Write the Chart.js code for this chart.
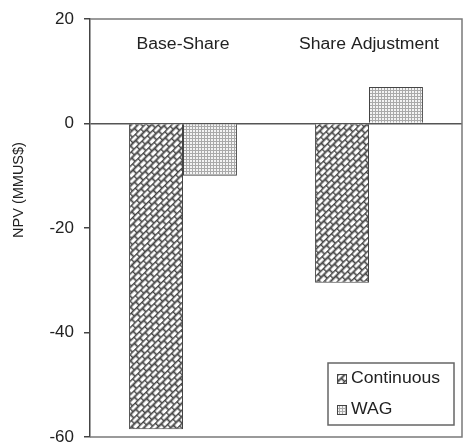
<!DOCTYPE html>
<html>
<head>
<meta charset="utf-8">
<script src="https://cdn.jsdelivr.net/npm/chart.js@4.4.1/dist/chart.umd.min.js"></script>
<style>
  html,body{margin:0;padding:0;background:#fff;}
  #wrap{width:463px;height:443px;}
</style>
</head>
<body>
<div id="wrap"><canvas id="c" width="463" height="443"></canvas></div>
<script>
const categories = ['Base-Share', 'Share Adjustment'];
const seriesNames = ['Continuous', 'WAG'];
const continuousValues = [-58.5, -30.5];
const wagValues = [-10, 7];
const yMin = -60, yMax = 20, yStep = 20;
const yTitle = 'NPV (MMUS$)';

const FONT = '"Liberation Sans", Arial, sans-serif';
const SX = 1.1; // horizontal stretch of the reference text

function brickPattern() {
  const t = document.createElement('canvas');
  t.width = 8; t.height = 10;
  const g = t.getContext('2d');
  g.fillStyle = '#fff'; g.fillRect(0, 0, 8, 10);
  g.strokeStyle = '#444'; g.lineWidth = 1.8;
  g.beginPath();
  g.moveTo(0, 0.5); g.lineTo(8, 0.5);
  g.moveTo(0, 5.5); g.lineTo(8, 5.5);
  g.moveTo(0.5, 0); g.lineTo(0.5, 5.5);
  g.moveTo(4.5, 5.5); g.lineTo(4.5, 10);
  g.stroke();
  const ctx = document.createElement('canvas').getContext('2d');
  const p = ctx.createPattern(t, 'repeat');
  p.setTransform(new DOMMatrix().rotateSelf(-45).scaleSelf(0.95, 0.95));
  return p;
}
function dotPattern() {
  const t = document.createElement('canvas');
  t.width = 3; t.height = 3;
  const g = t.getContext('2d');
  g.fillStyle = '#f4f4f4'; g.fillRect(0, 0, 3, 3);
  g.fillStyle = '#aaa';
  g.fillRect(0, 0, 3, 1);
  g.fillRect(0, 0, 1, 3);
  const ctx = document.createElement('canvas').getContext('2d');
  return ctx.createPattern(t, 'repeat');
}

function stretchText(ctx, text, x, y, align) {
  ctx.save();
  ctx.translate(x, y);
  ctx.scale(SX, 1);
  ctx.textAlign = align;
  ctx.fillText(text, 0, 0);
  ctx.restore();
}

const decor = {
  id: 'decor',
  afterDatasetsDraw(chart) {
    const { ctx, chartArea: a, scales } = chart;
    // frame (top, right, bottom)
    ctx.save();
    ctx.strokeStyle = '#7a7a7a';
    ctx.lineWidth = 1.5;
    ctx.beginPath();
    ctx.moveTo(a.left, a.top); ctx.lineTo(a.right, a.top); ctx.lineTo(a.right, a.bottom); ctx.lineTo(a.left, a.bottom);
    ctx.stroke();
    ctx.restore();

    // category labels inside the plot
    ctx.save();
    ctx.fillStyle = '#222';
    ctx.font = '16px ' + FONT;
    ctx.textBaseline = 'middle';
    categories.forEach((c, i) => {
      stretchText(ctx, c, scales.x.getPixelForValue(i), 45, 'center');
    });
    ctx.restore();

    // y title
    ctx.save();
    ctx.fillStyle = '#222';
    ctx.font = '14.5px ' + FONT;
    ctx.translate(19, 190);
    ctx.rotate(-Math.PI / 2);
    ctx.scale(1.0, 1);
    ctx.textAlign = 'center';
    ctx.textBaseline = 'middle';
    ctx.fillText(yTitle, 0, 0);
    ctx.restore();

    // legend
    const lx = 328, ly = 363, lw = 126, lh = 62;
    ctx.save();
    ctx.fillStyle = '#fff';
    ctx.fillRect(lx, ly, lw, lh);
    ctx.strokeStyle = '#666';
    ctx.lineWidth = 1.5;
    ctx.strokeRect(lx, ly, lw, lh);
    ctx.font = '16px ' + FONT;
    ctx.textBaseline = 'middle';
    chart.data.datasets.forEach((ds, i) => {
      const cy = ly + 16 + i * 31;
      ctx.fillStyle = ds.backgroundColor;
      ctx.fillRect(337, cy - 4.5, 9, 9);
      ctx.strokeStyle = '#444';
      ctx.lineWidth = 1;
      ctx.strokeRect(337.5, cy - 4.5, 9, 9);
      ctx.fillStyle = '#222';
      stretchText(ctx, ds.label, 351, cy, 'left');
    });
    ctx.restore();
  }
};

new Chart(document.getElementById('c'), {
  type: 'bar',
  data: {
    labels: categories,
    datasets: [
      { label: seriesNames[0], data: continuousValues, backgroundColor: brickPattern(), borderColor: '#444', borderWidth: 1 },
      { label: seriesNames[1], data: wagValues, backgroundColor: dotPattern(), borderColor: '#444', borderWidth: 1 }
    ]
  },
  options: {
    responsive: false,
    animation: false,
    events: [],
    layout: { padding: { left: 0, right: 1, top: 19, bottom: 6 } },
    datasets: { bar: { categoryPercentage: 0.58, barPercentage: 1.0 } },
    plugins: { legend: { display: false }, tooltip: { enabled: false } },
    scales: {
      x: { display: false },
      y: {
        min: yMin, max: yMax,
        ticks: { stepSize: yStep, color: '#222', font: { family: FONT, size: 17 }, padding: 10 },
        grid: {
          color: c => (c.tick && c.tick.value === 0) ? '#555' : 'rgba(0,0,0,0)',
          tickColor: '#444',
          tickLength: 6,
          lineWidth: 1.5,
          drawOnChartArea: true
        },
        border: { color: '#444', width: 1.5 },
        afterFit(s) { s.width = 90; s.paddingTop = 0; s.paddingBottom = 0; }
      }
    }
  },
  plugins: [decor]
});
</script>
</body>
</html>
